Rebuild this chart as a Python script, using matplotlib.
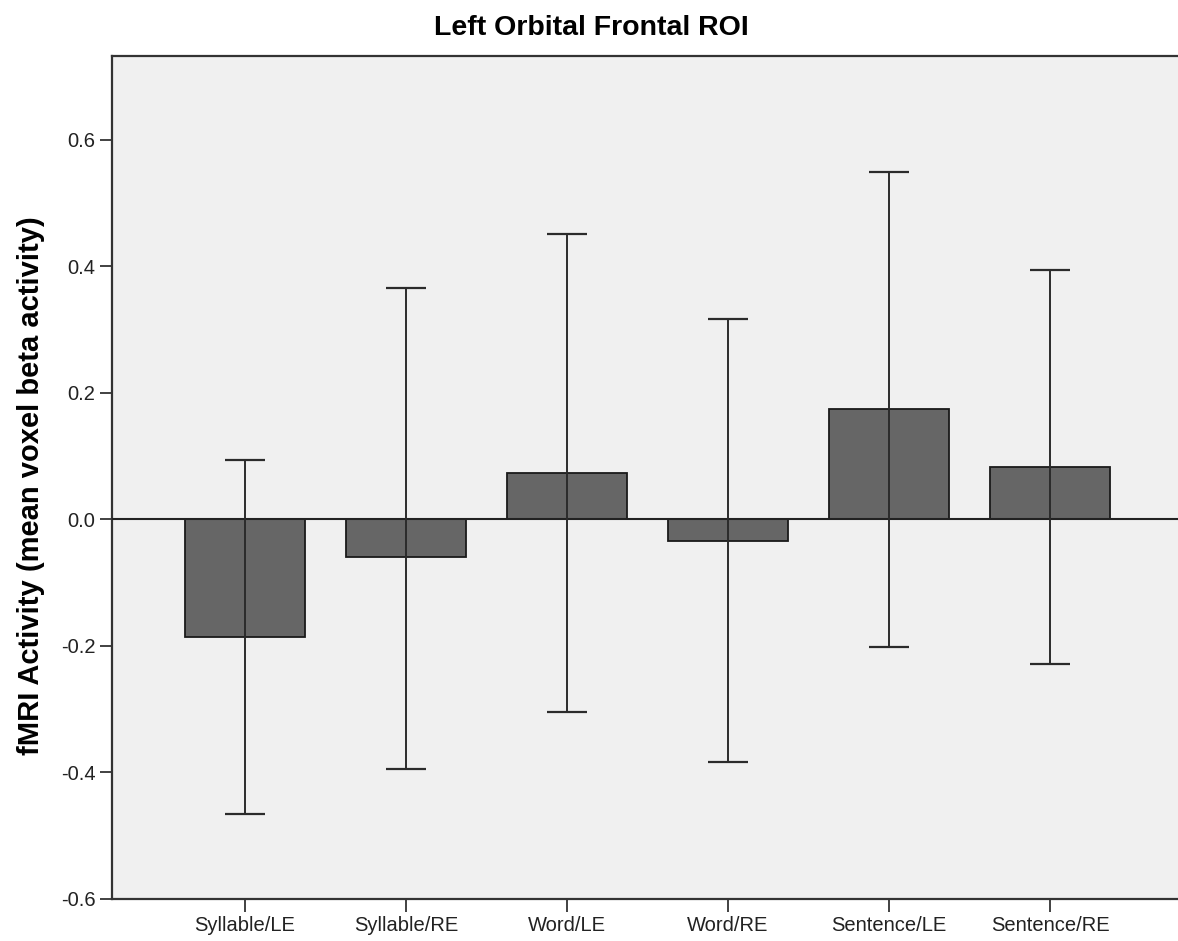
import matplotlib
matplotlib.use("Agg")
import matplotlib.pyplot as plt
import numpy as np

plt.rcParams["font.family"] = ["Liberation Sans", "DejaVu Sans"]

categories = ["Syllable/LE", "Syllable/RE", "Word/LE", "Word/RE", "Sentence/LE", "Sentence/RE"]
means = [-0.186, -0.059, 0.074, -0.034, 0.174, 0.083]
ci_low = [-0.466, -0.394, -0.304, -0.383, -0.201, -0.229]
ci_high = [0.094, 0.366, 0.451, 0.317, 0.549, 0.394]
yticks = [-0.6, -0.4, -0.2, 0.0, 0.2, 0.4, 0.6]

W, H = 1178, 941
fig = plt.figure(figsize=(W / 100, H / 100), dpi=100)
ax = fig.add_axes([112 / W, 1 - 899 / H, 1 - 112 / W, (899 - 55.6) / H])
ax.set_facecolor("#f0f0f0")

x = np.arange(len(categories))
m = np.array(means)
err = np.vstack([m - np.array(ci_low), np.array(ci_high) - m])

ax.bar(x, m, width=0.75, color="#666666", edgecolor="#1a1a1a", linewidth=1.3, zorder=2)
ax.axhline(0, color="#222222", lw=1.5, zorder=3)
ax.errorbar(x, m, yerr=err, fmt="none", ecolor="#2b2b2b", elinewidth=1.4,
            capsize=14.4, capthick=1.6, zorder=4)

ax.set_xlim(-0.826, 5.795)
ax.set_ylim(-0.6, 0.733)
ax.set_xticks(x)
ax.set_xticklabels(categories, fontsize=14.5, color="#222222")
ax.set_yticks(yticks)
ax.set_yticklabels([f"{v:.1f}" for v in yticks], fontsize=14.5, color="#222222")
ax.tick_params(direction="out", length=9, width=1.3, color="#333333", pad=3)

for s in ["left", "bottom", "top"]:
    ax.spines[s].set_linewidth(1.6)
    ax.spines[s].set_color("#333333")
ax.spines["right"].set_visible(False)

ax.set_ylabel("fMRI Activity (mean voxel beta activity)", fontsize=21, fontweight="bold")
ax.yaxis.set_label_coords(-0.063, 0.49)
fig.text(591 / W, 1 - 28 / H, "Left Orbital Frontal ROI", fontsize=20.5, fontweight="bold",
         ha="center", va="center")

fig.savefig("out.png", dpi=100)
